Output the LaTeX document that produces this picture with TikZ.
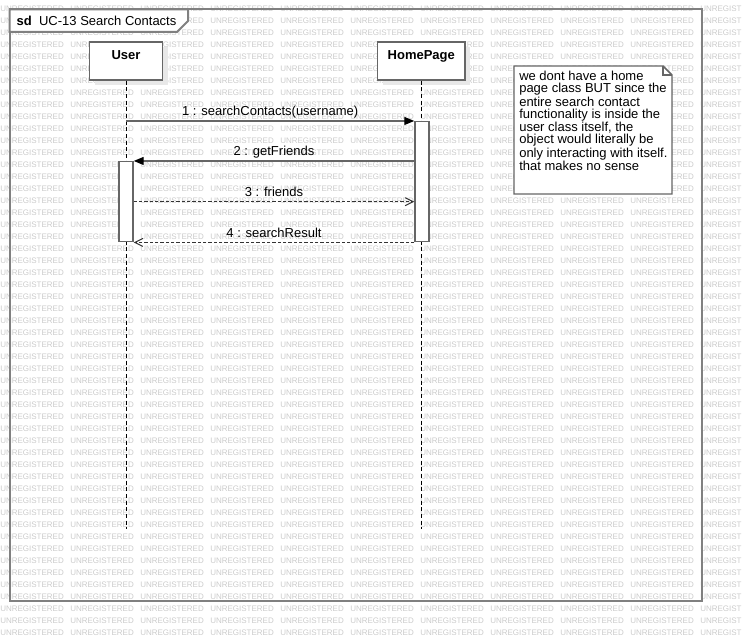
\documentclass[tikz,border=0pt]{standalone}
\usepackage{fontspec}
\setmainfont{Liberation Sans}
\usetikzlibrary{arrows.meta,shadows}
\definecolor{framegray}{HTML}{808080}
\definecolor{linegray}{HTML}{666666}
\definecolor{wmgray}{HTML}{CBCBCB}
\definecolor{shadowgray}{HTML}{E8E8E8}
\newcommand{\wm}[2]{\node[wm] (wm-#1-#2) at (70*#2,9+12*#1) {UNREGISTERED};}

\begin{document}
\begin{tikzpicture}[x=0.75pt,y=-0.75pt,
  lbl/.style={font=\fontsize{9.75}{9}\selectfont},
  wm/.style={anchor=west,inner sep=0,text=wmgray,font=\fontsize{6}{6}\selectfont},
  objbox/.style={draw=linegray,line width=1.1pt,fill=white,minimum width=54.75pt,minimum height=28.5pt,inner sep=0,
    text height=6.75pt,text depth=9pt,font=\fontsize{9.75}{11}\selectfont\bfseries,
    drop shadow={shadow xshift=3.75pt,shadow yshift=-3.75pt,fill=shadowgray,opacity=1}},
  actbox/.style={draw=linegray,line width=1.1pt,fill=white,minimum width=10.5pt,inner sep=0},
  life/.style={black,line width=0.75pt,dash pattern=on 3pt off 2pt},
  msg/.style={linegray,line width=0.9pt,-{Triangle[length=7.5pt,width=6pt,color=black]}},
  ret/.style={black!80,line width=0.75pt,dash pattern=on 2.5pt off 1.5pt,-{Straight Barb[length=6pt,width=6pt]}},
  mlbl/.style={lbl,text=black,anchor=base,yshift=4pt}]

  \useasboundingbox (0,0) rectangle (742,642);
  \foreach \r in {0,...,52} {\foreach \c in {0,...,10} {\wm{\r}{\c}}}

  \draw[framegray,line width=1.5pt] (9.5,9.5) rectangle (702,601);
  \draw[framegray,line width=1.5pt,fill=white] (9.5,9.5) -- (188,9.5) -- (188,21) -- (177,32) -- (9.5,32) -- cycle;
  \node[lbl,anchor=west] (title) at (12,21) {\textbf{sd}\ \ UC-13 Search Contacts};

  \node[objbox] (user) at (126,61) {User};
  \node[objbox,minimum width=65.5pt] (home) at (421.3,61) {HomePage};
  \coordinate (userEnd) at (126,529);
  \coordinate (homeEnd) at (421.3,529);
  \draw[life] (user.south) -- (userEnd);
  \draw[life] (home.south) -- (homeEnd);

  \node[actbox,minimum height=90pt] (homeAct) at (422,181.7) {};
  \node[actbox,minimum height=60pt] (userAct) at (126,201.7) {};

  \draw[msg] (user.south |- homeAct.north) -- node[mlbl] (m1) {1 : searchContacts(username)} (homeAct.north west);
  \draw[msg] (homeAct.west |- userAct.north) -- node[mlbl] (m2) {2 : getFriends} (userAct.north east);
  \draw[ret] (userAct.east) -- node[mlbl] (m3) {3 : friends} (userAct.east -| homeAct.west);
  \draw[ret] (homeAct.south west) -- node[mlbl] (m4) {4 : searchResult} (userAct.south east);

  \draw[linegray,line width=1.1pt,fill=white] (514,66) -- (663,66) -- (672,75) -- (672,194) -- (514,194) -- cycle;
  \draw[linegray,line width=0.9pt] (663,66) -- (663,75) -- (672,75);
  \node[lbl,anchor=north west,align=left,inner sep=0] (note) at (519,71) {we dont have a home\\page class BUT since the\\entire search contact\\functionality is inside the\\user class itself, the\\object would literally be\\only interacting with itself.\\that makes no sense};
\end{tikzpicture}
\end{document}
